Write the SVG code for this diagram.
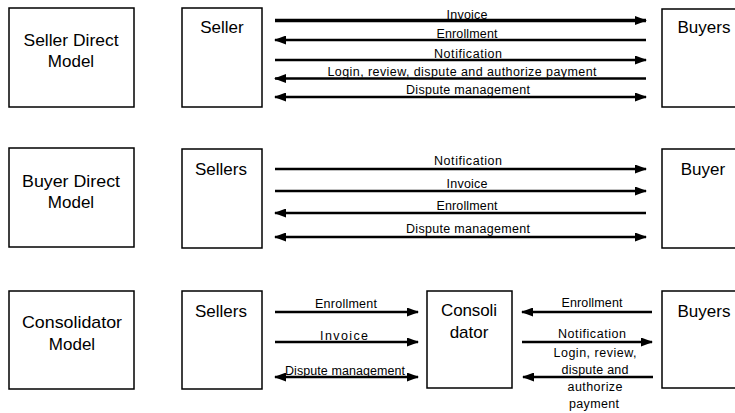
<svg xmlns="http://www.w3.org/2000/svg" width="735" height="413" viewBox="0 0 735 413">
<style>
.box{fill:#fff;stroke:#000;stroke-width:1.5}
.nt{font-family:"Liberation Sans",Arial,sans-serif;font-size:17px;fill:#000;text-anchor:middle}
.lb{font-family:"Liberation Sans",Arial,sans-serif;font-size:12.5px;fill:#000;text-anchor:middle}
.ln{stroke:#000;stroke-width:2.5;fill:none}
.thick{stroke-width:3.5}
.r{marker-end:url(#ah)}
.l{marker-start:url(#ah)}
.b{marker-start:url(#ah);marker-end:url(#ah)}
</style>
<defs>
<marker id="ah" viewBox="0 0 12 9" refX="11" refY="4.5" markerWidth="12" markerHeight="9" markerUnits="userSpaceOnUse" orient="auto-start-reverse">
<path d="M0,0 L12,4.5 L0,9 Z" fill="#000"/>
</marker>
</defs>
<rect width="735" height="413" fill="#fff"/>

<g id="seller-direct-model"><rect class="box" x="9" y="8" width="125" height="99"/><text class="nt" x="71" y="46" textLength="95" lengthAdjust="spacingAndGlyphs">Seller Direct</text><text class="nt" x="71" y="67">Model</text></g>
<g id="seller-1"><rect class="box" x="182" y="8" width="80" height="99"/><text class="nt" x="222" y="33">Seller</text></g>
<g id="buyers-1"><rect class="box" x="662" y="9" width="90" height="98"/><text class="nt" x="704" y="33">Buyers</text></g>

<g id="buyer-direct-model"><rect class="box" x="9" y="148" width="125" height="99"/><text class="nt" x="71" y="187" textLength="98" lengthAdjust="spacingAndGlyphs">Buyer Direct</text><text class="nt" x="71" y="208">Model</text></g>
<g id="sellers-2"><rect class="box" x="182" y="149" width="80" height="99"/><text class="nt" x="221" y="175">Sellers</text></g>
<g id="buyer-2"><rect class="box" x="662" y="149" width="90" height="99"/><text class="nt" x="703" y="175">Buyer</text></g>

<g id="consolidator-model"><rect class="box" x="9" y="291" width="125" height="98"/><text class="nt" x="72" y="328" textLength="100" lengthAdjust="spacingAndGlyphs">Consolidator</text><text class="nt" x="72" y="350">Model</text></g>
<g id="sellers-3"><rect class="box" x="182" y="291" width="80" height="98"/><text class="nt" x="221" y="317">Sellers</text></g>
<g id="consolidator"><rect class="box" x="427" y="291" width="85" height="97"/><text class="nt" x="469" y="316" textLength="56" lengthAdjust="spacing">Consoli</text><text class="nt" x="469" y="338">dator</text></g>
<g id="buyers-3"><rect class="box" x="662" y="291" width="90" height="97"/><text class="nt" x="704" y="317">Buyers</text></g>

<g id="connectors">
<g><line class="ln thick r" x1="275" y1="20.5" x2="646" y2="20.5"/><text class="lb" x="467" y="19" textLength="41">Invoice</text></g>
<g><line class="ln l" x1="275" y1="40" x2="646" y2="40"/><text class="lb" x="467" y="38" textLength="61">Enrollment</text></g>
<g><line class="ln r" x1="275" y1="60" x2="646" y2="60"/><text class="lb" x="468" y="58" textLength="68">Notification</text></g>
<g><line class="ln l" x1="275" y1="78.5" x2="646" y2="78.5"/><text class="lb" x="462" y="76" textLength="269">Login, review, dispute and authorize payment</text></g>
<g><line class="ln b" x1="275" y1="97" x2="646" y2="97"/><text class="lb" x="468" y="94" textLength="124">Dispute management</text></g>

<g><line class="ln r" x1="275" y1="169" x2="646" y2="169"/><text class="lb" x="468" y="165" textLength="68">Notification</text></g>
<g><line class="ln r" x1="275" y1="191" x2="646" y2="191"/><text class="lb" x="467" y="188" textLength="41">Invoice</text></g>
<g><line class="ln l" x1="275" y1="213" x2="646" y2="213"/><text class="lb" x="467" y="210" textLength="61">Enrollment</text></g>
<g><line class="ln b" x1="275" y1="237" x2="646" y2="237"/><text class="lb" x="468" y="233" textLength="124">Dispute management</text></g>

<g><line class="ln r" x1="275" y1="312" x2="418" y2="312"/><text class="lb" x="346" y="308" textLength="62">Enrollment</text></g>
<g><line class="ln r" x1="275" y1="342" x2="418" y2="342"/><text class="lb" x="344" y="340" textLength="48">Invoice</text></g>
<g><line class="ln b" x1="275" y1="377" x2="418" y2="377"/><text class="lb" x="345" y="375" textLength="120">Dispute management</text></g>

<g><line class="ln l" x1="522" y1="312" x2="652" y2="312"/><text class="lb" x="592" y="307" textLength="61">Enrollment</text></g>
<g><line class="ln r" x1="522" y1="342" x2="652" y2="342"/><text class="lb" x="592" y="338" textLength="68">Notification</text></g>
<g><line class="ln l" x1="523" y1="377" x2="653" y2="377"/><text class="lb" x="595" y="357" textLength="83">Login, review,</text><text class="lb" x="595" y="374" textLength="67">dispute and</text><text class="lb" x="595" y="391" textLength="55">authorize</text><text class="lb" x="594" y="408" textLength="50">payment</text></g>
</g>
</svg>
